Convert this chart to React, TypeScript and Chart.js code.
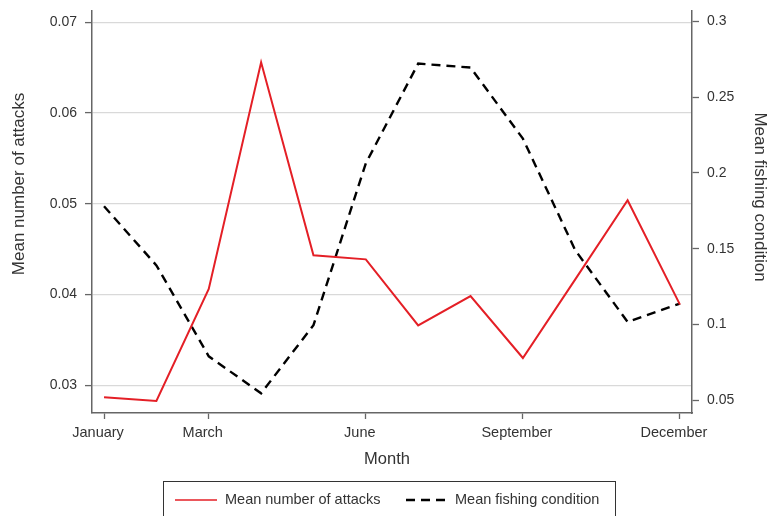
import React, { useEffect, useRef } from "react";
import { Chart, registerables } from "chart.js";

Chart.register(...registerables);

// ---- data ----
const months = [1, 2, 3, 4, 5, 6, 7, 8, 9, 10, 11, 12];
const monthTickValues = [1, 3, 6, 9, 12];
const monthTickLabels = ["January", "March", "June", "September", "December"];
const attacks = [0.02868, 0.02827, 0.04061, 0.06559, 0.04433, 0.04388, 0.03661, 0.03984, 0.03301, 0.04168, 0.05039, 0.03889];
const fishing = [0.178, 0.139, 0.079, 0.0546, 0.0995, 0.2063, 0.2721, 0.2695, 0.2226, 0.149, 0.1017, 0.1138];
const leftTicks = [0.03, 0.04, 0.05, 0.06, 0.07];
const rightTicks = [0.05, 0.1, 0.15, 0.2, 0.25, 0.3];
const attacksLabel = "Mean number of attacks";
const fishingLabel = "Mean fishing condition";
const xTitle = "Month";

const FONT = '"Liberation Sans", Arial, Helvetica, sans-serif';
const TEXT = "#333333";
const AXIS = "#666666";
const RED = "#e41f26";

const overlayPlugin = {
  id: "overlay",
  afterDraw(chart: any) {
    const ctx = chart.ctx as CanvasRenderingContext2D;
    ctx.save();
    ctx.fillStyle = TEXT;
    ctx.textAlign = "center";
    ctx.textBaseline = "middle";
    ctx.font = `17px ${FONT}`;
    // left title
    ctx.save();
    ctx.translate(19, 184);
    ctx.rotate(-Math.PI / 2);
    ctx.fillText(attacksLabel, 0, 0);
    ctx.restore();
    // right title
    ctx.save();
    ctx.translate(760, 197);
    ctx.rotate(Math.PI / 2);
    ctx.fillText(fishingLabel, 0, 0);
    ctx.restore();
    // x title
    ctx.font = `16.5px ${FONT}`;
    ctx.fillText(xTitle, 387, 459);
    // legend box
    ctx.strokeStyle = "#333333";
    ctx.lineWidth = 1;
    ctx.strokeRect(163.5, 481.5, 452, 60);
    ctx.font = `14.5px ${FONT}`;
    ctx.textAlign = "left";
    ctx.strokeStyle = RED;
    ctx.lineWidth = 1.5;
    ctx.beginPath();
    ctx.moveTo(175, 500);
    ctx.lineTo(217, 500);
    ctx.stroke();
    ctx.fillText(attacksLabel, 225, 500);
    ctx.strokeStyle = "#000";
    ctx.lineWidth = 2.4;
    ctx.setLineDash([9, 6]);
    ctx.beginPath();
    ctx.moveTo(406, 500);
    ctx.lineTo(448, 500);
    ctx.stroke();
    ctx.setLineDash([]);
    ctx.fillText(fishingLabel, 455, 500);
    ctx.restore();
  },
};

const noPadV = (s: any, w: number) => {
  s.width = w;
  s.paddingTop = 0;
  s.paddingBottom = 0;
};

export default function App() {
  const ref = useRef<HTMLCanvasElement>(null);

  useEffect(() => {
    if (!ref.current) return;
    const chart = new Chart(ref.current, {
      type: "line",
      data: {
        datasets: [
          {
            label: attacksLabel,
            data: months.map((m, i) => ({ x: m, y: attacks[i] })),
            borderColor: RED,
            backgroundColor: RED,
            borderWidth: 2,
            pointRadius: 0,
            tension: 0,
            yAxisID: "y",
          },
          {
            label: fishingLabel,
            data: months.map((m, i) => ({ x: m, y: fishing[i] })),
            borderColor: "#000000",
            backgroundColor: "#000000",
            borderWidth: 2.4,
            borderDash: [9, 6],
            pointRadius: 0,
            tension: 0,
            yAxisID: "y1",
          },
        ],
      },
      options: {
        responsive: false,
        animation: false,
        layout: { padding: { left: 0, right: 0, top: 11, bottom: 48 } },
        plugins: { legend: { display: false }, tooltip: { enabled: false } },
        scales: {
          x: {
            type: "linear",
            position: "bottom",
            min: 0.77,
            max: 12.23,
            afterBuildTicks: (s: any) => {
              s.ticks = monthTickValues.map((v) => ({ value: v }));
            },
            afterFit: (s: any) => {
              s.height = 55;
              s.paddingLeft = 0;
              s.paddingRight = 0;
            },
            ticks: {
              autoSkip: false,
              maxRotation: 0,
              padding: 5,
              labelOffset: -6,
              color: TEXT,
              font: { family: FONT, size: 14.5 },
              callback: (v: any) => monthTickLabels[monthTickValues.indexOf(Number(v))] ?? "",
            },
            grid: { drawOnChartArea: false, drawTicks: true, tickLength: 6, tickColor: AXIS, tickWidth: 1.3 },
            border: { display: true, color: AXIS, width: 1.5 },
          },
          y: {
            type: "linear",
            position: "left",
            min: 0.02695,
            max: 0.07125,
            afterBuildTicks: (s: any) => {
              s.ticks = leftTicks.map((v) => ({ value: v }));
            },
            afterFit: (s: any) => noPadV(s, 92),
            ticks: {
              padding: 8,
              color: TEXT,
              font: { family: FONT, size: 14 },
              callback: (v: any) => Number(v).toFixed(2),
            },
            grid: { color: "#d9d9d9", lineWidth: 1.2, drawTicks: true, tickLength: 7, tickColor: AXIS, tickWidth: 1.3 },
            border: { display: true, color: AXIS, width: 1.5 },
          },
          y1: {
            type: "linear",
            position: "right",
            min: 0.0416,
            max: 0.3068,
            afterBuildTicks: (s: any) => {
              s.ticks = rightTicks.map((v) => ({ value: v }));
            },
            afterFit: (s: any) => noPadV(s, 77),
            ticks: {
              padding: 8,
              color: TEXT,
              font: { family: FONT, size: 14 },
              callback: (v: any) => String(Number(Number(v).toFixed(2))),
            },
            grid: { drawOnChartArea: false, drawTicks: true, tickLength: 7, tickColor: AXIS, tickWidth: 1.3 },
            border: { display: true, color: AXIS, width: 1.5 },
          },
        },
      },
      plugins: [overlayPlugin],
    });
    return () => chart.destroy();
  }, []);

  return (
    <div style={{ position: "fixed", left: 0, top: 0, width: 769, height: 516, background: "#fff" }}>
      <canvas ref={ref} width={769} height={516} style={{ display: "block" }} />
    </div>
  );
}
